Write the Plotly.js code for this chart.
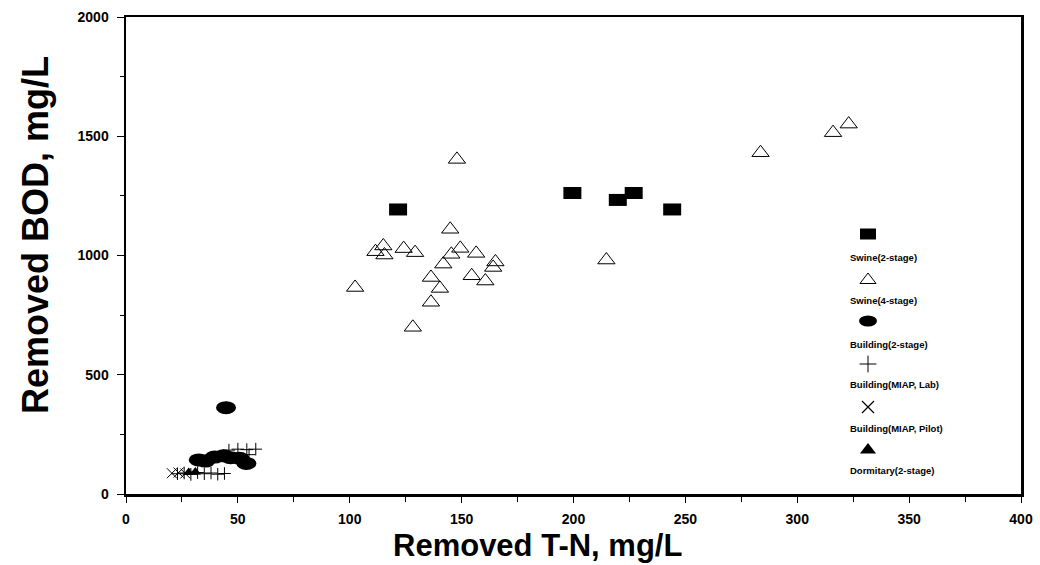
<!DOCTYPE html>
<html>
<head>
<meta charset="utf-8">
<script src="https://cdn.plot.ly/plotly-3.0.1.min.js"></script>
<style>html,body{margin:0;padding:0;background:#fff;}#chart{width:1040px;height:565px;}</style>
</head>
<body>
<div id="chart"></div>
<script>
// ---- data ----
const swine2X = [121.6, 199.5, 219.8, 226.9, 244.1];
const swine2Y = [1193, 1262, 1233, 1262, 1193];

const swine4X = [147.9, 144.9, 115.0, 111.5, 115.5, 124.1, 129.2, 149.4, 145.4, 156.5, 141.8, 165.1, 164.1, 136.3, 154.5, 160.6, 140.3, 102.4, 136.3, 128.2, 214.7, 283.6, 316, 323];
const swine4Y = [1403, 1110, 1040, 1016, 1002, 1029, 1012, 1030, 1005, 1009, 964, 973, 950, 908, 915, 893, 862, 866, 804, 699, 981, 1431, 1515, 1551];

const build2X = [44.7, 32.5, 35.5, 39.6, 43.6, 46.7, 50.7, 53.8];
const build2Y = [362, 143, 138, 155, 160, 152, 150, 128];

const labX = [23, 26, 29, 32, 35, 38, 41, 44, 46, 50, 54, 58, 55];
const labY = [85, 88, 82, 90, 85, 88, 83, 86, 184, 188, 186, 188, 165];

const pilotX = [20.5, 23.5, 26.5];
const pilotY = [87, 90, 86];

const dormX = [28, 31];
const dormY = [90, 92];

const legendLabels = ["Swine(2-stage)", "Swine(4-stage)", "Building(2-stage)", "Building(MIAP, Lab)", "Building(MIAP, Pilot)", "Dormitary(2-stage)"];

const xTickVals = [0, 50, 100, 150, 200, 250, 300, 350, 400];
const yTickVals = [0, 500, 1000, 1500, 2000];

const xTitle = 'Removed T-N, mg/L';
const yTitle = 'Removed BOD, mg/L';

// ---- layout helpers ----
const FONT = "Liberation Sans, Arial, sans-serif";
const W = 1040, H = 565;
const plotL = 126, plotR = 1021, plotT = 17, plotB = 494;
function px2paperX(p){ return (p - plotL) / (plotR - plotL); }
function px2paperY(p){ return (plotB - p) / (plotB - plotT); }

const shapes = [];
// rectangles for Swine(2-stage)
swine2X.forEach((x, i) => {
  shapes.push({type:'rect', xref:'x', yref:'y', xsizemode:'pixel', ysizemode:'pixel',
    xanchor:x, yanchor:swine2Y[i], x0:-9, x1:9, y0:-6, y1:6,
    fillcolor:'#000', line:{color:'#000', width:0}});
});
// ellipses for Building(2-stage)
build2X.forEach((x, i) => {
  shapes.push({type:'circle', xref:'x', yref:'y', xsizemode:'pixel', ysizemode:'pixel',
    xanchor:x, yanchor:build2Y[i], x0:-10, x1:10, y0:-6.5, y1:6.5,
    fillcolor:'#000', line:{color:'#000', width:0}});
});

// legend
const legSymX = 868;
const legSymY = [234, 280, 321, 364, 407, 450];
const legTxtY = [257, 300, 344, 384, 428, 470];
const legTxtX = 848;

shapes.push({type:'rect', xref:'paper', yref:'paper', xsizemode:'pixel', ysizemode:'pixel',
  xanchor:px2paperX(legSymX), yanchor:px2paperY(legSymY[0]), x0:-8, x1:8, y0:-5.5, y1:5.5,
  fillcolor:'#000', line:{width:0}});
shapes.push({type:'circle', xref:'paper', yref:'paper', xsizemode:'pixel', ysizemode:'pixel',
  xanchor:px2paperX(legSymX), yanchor:px2paperY(legSymY[2]), x0:-9, x1:9, y0:-5.5, y1:5.5,
  fillcolor:'#000', line:{width:0}});

const annotations = legendLabels.map((t, i) => ({
  text: t, xref:'paper', yref:'paper', x: px2paperX(legTxtX), y: px2paperY(legTxtY[i]),
  xanchor:'left', yanchor:'middle', showarrow:false,
  font:{family:FONT, size:9.5, color:'#000', weight:'bold'}
}));
// axis titles (placed as in the reference, slightly off-centre)
annotations.push({text:xTitle, xref:'paper', yref:'paper', x:px2paperX(537), y:px2paperY(565),
  xanchor:'center', yanchor:'bottom', showarrow:false,
  font:{family:FONT, size:31, color:'#000', weight:'bold'}});
annotations.push({text:yTitle, xref:'paper', yref:'paper', x:px2paperX(35), y:px2paperY(235),
  xanchor:'center', yanchor:'middle', showarrow:false, textangle:-90,
  font:{family:FONT, size:36, color:'#000', weight:'bold'}});

const traces = [
  {x: swine2X, y: swine2Y, type:'scatter', mode:'markers', name:legendLabels[0],
   marker:{symbol:'square', size:10, color:'#000'}},
  {x: swine4X, y: swine4Y, type:'scatter', mode:'markers', name:legendLabels[1],
   marker:{symbol:'triangle-up-open', size:15, color:'#000', line:{width:1, color:'#000'}}},
  {x: build2X, y: build2Y, type:'scatter', mode:'markers', name:legendLabels[2],
   marker:{symbol:'circle', size:12, color:'#000'}},
  {x: labX, y: labY, type:'scatter', mode:'markers', name:legendLabels[3],
   marker:{symbol:'cross-thin-open', size:9, color:'#000', line:{width:1, color:'#000'}}},
  {x: pilotX, y: pilotY, type:'scatter', mode:'markers', name:legendLabels[4],
   marker:{symbol:'x-thin-open', size:10, color:'#000', line:{width:1, color:'#000'}}},
  {x: dormX, y: dormY, type:'scatter', mode:'markers', name:legendLabels[5],
   marker:{symbol:'triangle-up', size:10, color:'#000'}},
  // legend symbols on overlay axes (0..1 across the plot area)
  {x: [px2paperX(legSymX)], y: [px2paperY(legSymY[1])], xaxis:'x2', yaxis:'y2', type:'scatter', mode:'markers', hoverinfo:'skip',
   marker:{symbol:'triangle-up-open', size:14, color:'#000', line:{width:1, color:'#000'}}},
  {x: [px2paperX(legSymX)], y: [px2paperY(legSymY[3])], xaxis:'x2', yaxis:'y2', type:'scatter', mode:'markers', hoverinfo:'skip',
   marker:{symbol:'cross-thin-open', size:12, color:'#000', line:{width:1, color:'#000'}}},
  {x: [px2paperX(legSymX)], y: [px2paperY(legSymY[4])], xaxis:'x2', yaxis:'y2', type:'scatter', mode:'markers', hoverinfo:'skip',
   marker:{symbol:'x-thin-open', size:12, color:'#000', line:{width:1.2, color:'#000'}}},
  {x: [px2paperX(legSymX)], y: [px2paperY(legSymY[5])], xaxis:'x2', yaxis:'y2', type:'scatter', mode:'markers', hoverinfo:'skip',
   marker:{symbol:'triangle-up', size:14, color:'#000'}}
];

const layout = {
  width:W, height:H,
  margin:{l:plotL, r:W-plotR, t:plotT, b:H-plotB},
  paper_bgcolor:'#fff', plot_bgcolor:'#fff',
  showlegend:false,
  font:{family:FONT, color:'#000'},
  xaxis:{
    range:[0, 400], tickvals:xTickVals, ticktext:xTickVals.map(String),
    showgrid:false, zeroline:false, showline:true, linewidth:2.5, linecolor:'#000', mirror:true,
    ticks:'outside', ticklen:6, tickwidth:1, tickcolor:'#000', ticklabelstandoff:5,
    ticklabeloverflow:'allow',
    minor:{dtick:25, tick0:0, ticks:'outside', ticklen:5, tickwidth:1, tickcolor:'#000'},
    tickfont:{family:FONT, size:14, weight:'bold'}
  },
  yaxis:{
    range:[0, 2000], tickvals:yTickVals, ticktext:yTickVals.map(String),
    showgrid:false, zeroline:false, showline:true, linewidth:2.5, linecolor:'#000', mirror:true,
    ticks:'outside', ticklen:7, tickwidth:1, tickcolor:'#000', ticklabelstandoff:5,
    ticklabeloverflow:'allow',
    minor:{dtick:250, tick0:0, ticks:'outside', ticklen:4, tickwidth:1, tickcolor:'#000'},
    tickfont:{family:FONT, size:14, weight:'bold'}
  },
  xaxis2:{overlaying:'x', range:[0,1], visible:false, fixedrange:true},
  yaxis2:{overlaying:'y', range:[0,1], visible:false, fixedrange:true},
  shapes: shapes,
  annotations: annotations
};

Plotly.newPlot('chart', traces, layout, {staticPlot:true, displayModeBar:false});
</script>
</body>
</html>
